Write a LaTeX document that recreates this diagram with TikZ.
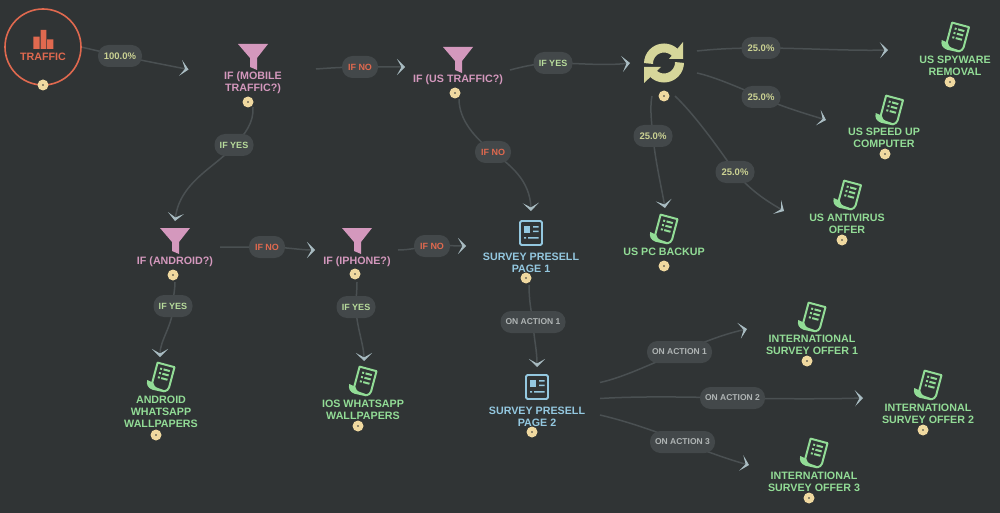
\documentclass[tikz,border=0pt]{standalone}
\usepackage{fontspec}
\setmainfont{Liberation Sans}
\usetikzlibrary{arrows.meta}
\definecolor{bgc}{HTML}{303435}
\definecolor{pillc}{HTML}{43484A}
\definecolor{linec}{HTML}{4A5052}
\definecolor{tipc}{HTML}{A9BCC2}
\definecolor{redc}{HTML}{E0694F}
\definecolor{pinkc}{HTML}{D498BD}
\definecolor{bluec}{HTML}{94C8E0}
\definecolor{greenc}{HTML}{92DC96}
\definecolor{tokc}{HTML}{F0D9A0}
\definecolor{pctc}{HTML}{CBD293}
\definecolor{yesc}{HTML}{B8DC9C}
\definecolor{actc}{HTML}{B0B5B5}
\definecolor{refc}{HTML}{D6D69A}
\pgfdeclarelayer{bgl}\pgfdeclarelayer{conn}
\pgfsetlayers{bgl,conn,main}
\tikzset{
 x=1pt,y=-1pt,
 conn/.style={draw=linec,line width=1.5pt,-{Stealth[length=8pt,width=16pt,inset=4.5pt,color=tipc]}},
 pill/.style={fill=pillc,rounded corners=10.5pt,minimum height=22pt,inner sep=0pt,font=\bfseries\fontsize{9}{10}\selectfont},
 pct/.style={pill,text=pctc,minimum width=39pt,font=\bfseries\fontsize{9.5}{10}\selectfont},
 ifno/.style={pill,text=redc,minimum width=36pt},
 ifyes/.style={pill,text=yesc,minimum width=39pt},
 act/.style={pill,text=actc,minimum width=65pt,font=\bfseries\fontsize{8.5}{10}\selectfont},
 lab/.style={align=center,inner sep=0pt,font=\bfseries\fontsize{10.7}{12}\selectfont},
 tok/.style={circle,fill=tokc,minimum size=11pt,inner sep=0pt,path picture={\fill[bgc] (path picture bounding box.center) circle (0.8pt);}},
 funnel/.pic={\fill[pinkc] (-15,-13)--(15,-13)--(4,1)--(4,13)--(-3,10)--(-3,1)--cycle;},
 report/.pic={\draw[bluec,line width=1.8pt,rounded corners=1.5pt] (-11,-12) rectangle (11,12);
   \fill[bluec] (-7,-7) rectangle (-1,0);
   \fill[bluec] (2,-7) rectangle (7.5,-5.3) (2,-2.5) rectangle (7.5,-0.8) (-3,4) rectangle (7.5,5.7) (-7,4) rectangle (-5,5.7);},
 docu/.pic={\begin{scope}[rotate=-15]
   \draw[greenc,line width=2pt,line join=round] (-7,8) -- (-7,-13) -- (10.5,-13) -- (10.5,8) .. controls (10.5,10) and (9,12) .. (7,13);
   \fill[greenc] (-12.5,6.5) -- (-6,7.5) .. controls (-5,10) and (-3,11.5) .. (1,11.5) -- (8,12) -- (7,14) -- (-5,14.5) .. controls (-10,14) and (-12.5,11) .. (-12.5,6.5) -- cycle;
   \foreach \yy in {-8,-3.5,1}{\fill[greenc] (-3,\yy-1) rectangle (-1,\yy+1) (0.5,\yy-1) rectangle (7,\yy+1);}
   \end{scope}},
}
\begin{document}
\begin{tikzpicture}
\begin{pgfonlayer}{bgl}
\fill[bgc] (0,0) rectangle (1000,513);
\end{pgfonlayer}
\useasboundingbox (0,0) rectangle (1000,513);
% source
\node[circle,draw=redc,line width=1.6pt,minimum size=76pt,inner sep=0pt] (traffic) at (43,47) {};
\fill[redc] (33.3,36.7) rectangle (39.6,49) (40.6,30) rectangle (46.3,49) (47.2,39.5) rectangle (53.3,49);
\node[lab,text=redc] (trafficl) at (43,57) {TRAFFIC};
\node[tok] (t0) at (43,85) {};
% funnels
\pic at (253,57) {funnel};
\node[lab,text=pinkc] (fa) at (253,82.5) {IF (MOBILE\\TRAFFIC?)};
\node[tok] (ta) at (248,102) {};
\pic at (458,60) {funnel};
\node[lab,text=pinkc] (fb) at (458,79.5) {IF (US TRAFFIC?)};
\node[tok] (tb) at (455,93) {};
\pic at (175,241) {funnel};
\node[lab,text=pinkc] (fc) at (175,261.5) {IF (ANDROID?)};
\node[tok] (tc) at (173,275) {};
\pic at (357,241) {funnel};
\node[lab,text=pinkc] (fd) at (357,261.5) {IF (IPHONE?)};
\node[tok] (td) at (355,274) {};
% reports
\pic at (531,233) {report};
\node[lab,text=bluec] (ra) at (531,262.5) {SURVEY PRESELL\\PAGE 1};
\node[tok] (tra) at (526,278) {};
\pic at (537,387) {report};
\node[lab,text=bluec] (rb) at (537,416.5) {SURVEY PRESELL\\PAGE 2};
\node[tok] (trb) at (532,432) {};
% rotator
\draw[refc,line width=9pt] (664,63.5) ++(180:15.5) arc[start angle=180,end angle=315,radius=15.5];
\draw[refc,line width=9pt] (664,62.5) ++(0:15.5) arc[start angle=0,end angle=135,radius=15.5];
\fill[refc] (683,42) -- (683,59) -- (669,59) -- cycle;
\fill[refc] (644,83) -- (644,67) -- (661,67) -- cycle;
\node[tok] (trot) at (664,96) {};
% offers
\pic at (955.5,37) {docu};
\node[lab,text=greenc] (o1) at (955,66) {US SPYWARE\\REMOVAL};
\node[tok] (to1) at (950,82) {};
\pic at (889.5,110) {docu};
\node[lab,text=greenc] (o2) at (884,138) {US SPEED UP\\COMPUTER};
\node[tok] (to2) at (885,154) {};
\pic at (847.5,195) {docu};
\node[lab,text=greenc] (o3) at (847,224) {US ANTIVIRUS\\OFFER};
\node[tok] (to3) at (842,240) {};
\pic at (664,229) {docu};
\node[lab,text=greenc] (o4) at (664,252) {US PC BACKUP};
\node[tok] (to4) at (664,266) {};
\pic at (161,377) {docu};
\node[lab,text=greenc] (o5) at (161,412) {ANDROID\\WHATSAPP\\WALLPAPERS};
\node[tok] (to5) at (156,435) {};
\pic at (363,381) {docu};
\node[lab,text=greenc] (o6) at (363,410) {IOS WHATSAPP\\WALLPAPERS};
\node[tok] (to6) at (358,426) {};
\pic at (812,317) {docu};
\node[lab,text=greenc] (o7) at (812,344.5) {INTERNATIONAL\\SURVEY OFFER 1};
\node[tok] (to7) at (807,361) {};
\pic at (928,385) {docu};
\node[lab,text=greenc] (o8) at (928,413.5) {INTERNATIONAL\\SURVEY OFFER 2};
\node[tok] (to8) at (923,430) {};
\pic at (814,453) {docu};
\node[lab,text=greenc] (o9) at (814,482) {INTERNATIONAL\\SURVEY OFFER 3};
\node[tok] (to9) at (809,498) {};
% pills
\node[pct,minimum width=44pt] (p1) at (120,56) {100.0\%};
\node[ifno] (p2) at (360,67) {IF NO};
\node[ifyes] (p3) at (553,63) {IF YES};
\node[ifyes] (p4) at (234,145) {IF YES};
\node[ifno] (p5) at (493,152) {IF NO};
\node[ifno] (p6) at (267,247) {IF NO};
\node[ifno] (p7) at (432,246) {IF NO};
\node[ifyes] (p8) at (173,306) {IF YES};
\node[ifyes] (p9) at (356,307) {IF YES};
\node[act] (p10) at (533,322) {ON ACTION 1};
\node[pct] (p11) at (761,48) {25.0\%};
\node[pct] (p12) at (761,97) {25.0\%};
\node[pct] (p13) at (735,172) {25.0\%};
\node[pct] (p14) at (653,136) {25.0\%};
\node[act] (p15) at (679.5,352) {ON ACTION 1};
\node[act] (p16) at (732.5,398) {ON ACTION 2};
\node[act] (p17) at (682.5,442) {ON ACTION 3};
% ends
\coordinate (s1) at (81,47);   \coordinate (e1) at (188.5,69.5);
\coordinate (s2) at (316,69);  \coordinate (e2) at (405,67);
\coordinate (s3) at (510,70);  \coordinate (e3) at (630,63);
\coordinate (s4) at (253,107); \coordinate (e4) at (175,221);
\coordinate (s5) at (459,99);  \coordinate (e5) at (531,211);
\coordinate (s6) at (220,247); \coordinate (e6) at (315,250);
\coordinate (s7) at (398,250); \coordinate (e7) at (466,246);
\coordinate (s8) at (175,282); \coordinate (e8) at (160,357);
\coordinate (s9) at (357,282); \coordinate (e9) at (364,361);
\coordinate (s10) at (529,285);\coordinate (e10) at (537,367);
\coordinate (s11) at (697,51); \coordinate (e11) at (888,50);
\coordinate (s12) at (697,73); \coordinate (e12) at (826,120);
\coordinate (s13) at (675,96); \coordinate (e13) at (784,211);
\coordinate (s14) at (652,96); \coordinate (e14) at (665,208);
\coordinate (s15) at (600,382.5);\coordinate (e15) at (747,329);
\coordinate (s16) at (600,398.5);\coordinate (e16) at (863,398);
\coordinate (s17) at (600,415);\coordinate (e17) at (749,465);
\begin{pgfonlayer}{conn}
\draw[conn] (s1) -- (p1.center) -- (e1);
\draw[conn] (s2) .. controls (330,68) and (345,67) .. (p2.center) .. controls (375,67) and (390,67) .. (e2);
\draw[conn] (s3) .. controls (525,66) and (540,63) .. (p3.center) .. controls (575,63) and (605,66) .. (e3);
\draw[conn] (s4) .. controls (254,122) and (245,135) .. (p4.center) .. controls (220,165) and (180,180) .. (e4);
\draw[conn] (s5) .. controls (459,120) and (475,138) .. (p5.center) .. controls (510,165) and (530,180) .. (e5);
\draw[conn] (s6) .. controls (235,247) and (250,247) .. (p6.center) .. controls (285,247) and (300,250) .. (e6);
\draw[conn] (s7) .. controls (410,250) and (420,247) .. (p7.center) .. controls (445,245) and (455,246) .. (e7);
\draw[conn] (s8) .. controls (175,290) and (173,297) .. (p8.center) .. controls (173,325) and (160,340) .. (e8);
\draw[conn] (s9) .. controls (357,290) and (356,298) .. (p9.center) .. controls (356,325) and (364,345) .. (e9);
\draw[conn] (s10) .. controls (529,300) and (531,310) .. (p10.center) .. controls (534,340) and (537,350) .. (e10);
\draw[conn] (s11) .. controls (715,49) and (735,48) .. (p11.center) .. controls (800,48) and (850,51) .. (e11);
\draw[conn] (s12) .. controls (715,77) and (740,88) .. (p12.center) .. controls (780,106) and (800,112) .. (e12);
\draw[conn] (s13) .. controls (695,115) and (720,150) .. (p13.center) .. controls (750,190) and (765,200) .. (e13);
\draw[conn] (s14) .. controls (650,105) and (651,120) .. (p14.center) .. controls (655,160) and (662,190) .. (e14);
\draw[conn] (s15) .. controls (625,377) and (655,362) .. (p15.center) .. controls (700,344) and (720,335) .. (e15);
\draw[conn] (s16) .. controls (640,396) and (690,397) .. (p16.center) .. controls (780,399) and (830,399) .. (e16);
\draw[conn] (s17) .. controls (630,422) and (660,433) .. (p17.center) .. controls (705,451) and (730,460) .. (e17);
\end{pgfonlayer}
\end{tikzpicture}
\end{document}
